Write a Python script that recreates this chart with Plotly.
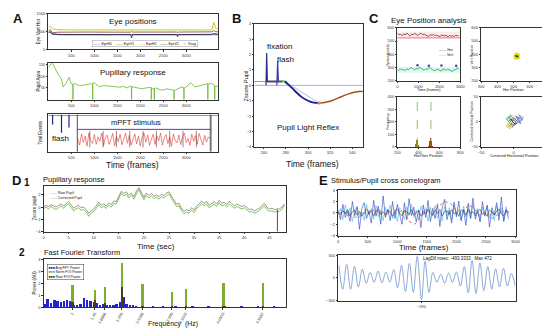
import plotly.graph_objects as go

W, H = 550, 328
FONT = "Liberation Sans, Arial, sans-serif"

# ---------------- data ----------------
# A1 eye positions
eye_t = [0, 40, 80, 120, 200, 300, 400, 500, 700, 900, 1100, 1300, 1500, 1700, 1790, 1810, 1830, 1900, 2100, 2300,
         2500, 2700, 2790, 2810, 2830, 2900, 3100, 3300, 3500, 3560, 3600, 3640, 3690]
eyeH2 = [620, 640, 600, 570, 555, 550, 548, 550, 547, 549, 548, 550, 549, 548, 547, 552, 548, 549, 550, 548,
         549, 548, 550, 552, 549, 548, 549, 550, 548, 560, 760, 600, 560]
eyeV1 = [520, 560, 480, 470, 485, 488, 490, 487, 489, 490, 488, 489, 490, 487, 486, 510, 488, 489, 490, 488,
         489, 487, 490, 470, 489, 490, 488, 489, 490, 495, 530, 500, 495]
eyeH1 = [470, 490, 430, 420, 415, 412, 410, 412, 409, 411, 413, 410, 412, 411, 410, 400, 412, 411, 413, 410,
         412, 410, 411, 400, 412, 411, 413, 410, 412, 415, 420, 418, 415]
eyeV2 = [480, 500, 440, 430, 425, 420, 418, 420, 417, 419, 421, 418, 420, 419, 418, 330, 420, 419, 421, 418,
         420, 418, 419, 360, 420, 419, 421, 418, 420, 425, 450, 430, 425]

# A2 pupil area
pup_t = [0, 30, 90, 140, 210, 283, 319, 376, 448, 498, 530, 534, 538, 570, 677, 820, 928, 960, 964, 968,
         1000, 1107, 1200, 1323, 1430, 1538, 1630, 1717, 1789, 1806, 1810, 1814, 1839, 1950, 2040, 2130, 2220, 2236, 2240, 2244,
         2270, 2301, 2305, 2309, 2326, 2400, 2470, 2577, 2650, 2720, 2731, 2735, 2739, 2757, 2850, 2900, 2946, 2950, 2954, 2971,
         3100, 3186, 3258, 3350, 3466, 3470, 3474, 3550, 3616, 3620, 3624, 3690]
pup_a = [140, 147, 155, 133, 108, 88, 54, 68, 95, 68, 66, 0, 64, 68, 60, 63, 68, 66, 0, 70,
         72, 54, 60, 58, 55, 53, 56, 50, 58, 56, 0, 55, 54, 50, 46, 50, 54, 52, 0, 50,
         46, 48, 0, 48, 50, 44, 40, 46, 44, 40, 40, 0, 40, 40, 48, 54, 52, 0, 50, 50,
         72, 54, 58, 62, 68, 0, 66, 70, 60, 0, 58, 55]

# A3 trial events
flash_t = [90, 284, 447]
flash_depth = [0.73, 0.51, 0.65]
stim_on, stim_off = 628, 3523
stim_level = 0.6
stim_marks = [900, 1190, 1480, 1770, 2060, 2350, 2640, 2930, 3220]
stim_sig = [0.35, 0.18, 0.48, 0.25, 0.42, 0.15, 0.5, 0.3, 0.22, 0.46, 0.2, 0.4, 0.28, 0.5, 0.17, 0.38, 0.45, 0.2, 0.33, 0.49,
            0.16, 0.41, 0.27, 0.47, 0.19, 0.36, 0.5, 0.23, 0.44, 0.18, 0.31, 0.48, 0.21, 0.42, 0.16, 0.39, 0.5, 0.26, 0.45, 0.17,
            0.34, 0.47, 0.2, 0.43, 0.29, 0.5, 0.18, 0.37, 0.46, 0.22, 0.4, 0.15, 0.48, 0.3, 0.24, 0.45, 0.19, 0.41, 0.5, 0.25,
            0.36, 0.17, 0.47, 0.28, 0.43, 0.2, 0.49, 0.32, 0.18, 0.44, 0.26, 0.4, 0.35]
stim_t = list(range(640, 640 + 40 * len(stim_sig), 40))

# B pupil light reflex
b_fix_t = [262.0, 262.6, 263.2]
b_fix_v = [0.0, 2.1, 0.25]
b_flash_t = [271.8, 272.5, 273.2]
b_flash_v = [0.0, 1.6, 0.25]
b_pre_t = [251.5, 262.5]
b_pre_v = [0.25, 0.25]
b_hold_t = [262.5, 277.0]
b_hold_v = [0.25, 0.25]
b_grn_t = [276.0, 281.0]
b_grn_v = [0.28, 0.22]
b_plr_t = [279, 283, 288, 294, 300, 305, 310]
b_plr_v = [0.25, 0.0, -0.35, -0.75, -1.0, -1.12, -1.15]
b_rec_t = [310, 316, 322, 328, 334, 340, 346, 349.5]
b_rec_v = [-1.15, -1.1, -0.98, -0.8, -0.62, -0.48, -0.4, -0.38]

# C1 eye position time series
c1_hor = [560, 548, 552, 540, 555, 545, 560, 550, 538, 552, 546, 558, 549, 541, 553, 560, 547, 552, 545, 540,
          535, 548, 542, 550, 538, 545, 540, 532, 546, 541, 538, 545, 530, 542, 536, 540, 533, 545, 538, 541]
c1_vert = [285, 278, 290, 282, 288, 276, 292, 284, 296, 300, 290, 282, 295, 288, 305, 298, 286, 280, 292, 284,
           300, 296, 286, 280, 276, 290, 285, 281, 274, 292, 286, 280, 289, 284, 278, 270, 286, 282, 300, 290]
c1_t = list(range(0, 75 * len(c1_hor), 75))
c1_peak_t = [960, 1500, 2100, 2800]
c1_peak_v = [318, 315, 316, 315]
c1_hor_band = [515, 572]
c1_vert_band = [262, 305]
c1_hor_mean = 524

# C2 mean position
c2_x = [520, 523, 517]
c2_y = [385, 383, 388]

# C3 histogram
c3_vert_bins = [375, 380, 385, 390, 395, 400, 405]
c3_vert_cnt = [8, 25, 45, 60, 40, 20, 6]
c3_hor_bins = [505, 510, 515, 520, 525, 530, 535]
c3_hor_cnt = [5, 22, 48, 70, 50, 25, 6]
c3_means = [390, 520]

# C4 centered positions
c4_blue_x = [5, 12, 8, 15, 10, 3, 9, 14, 6, 11, 2, 7]
c4_blue_y = [10, 6, 14, 8, 2, 12, -2, 4, 9, -4, 5, 0]
c4_green_x = [-8, -2, -10, -4, -12, -6, 0, -9, -3, -7]
c4_green_y = [8, 12, 4, 14, 6, -2, 10, 0, 6, -6]
c4_yel_x = [-10, -4, -12, -6, -2, -8, -5, -11]
c4_yel_y = [-4, -10, -8, -2, -12, -6, -14, -10]
c4_dark_x = [-3, 2, -6, 4, 0, -2, 6, -4, 1, 3]
c4_dark_y = [2, -4, 6, 0, -8, -10, -2, -6, 8, 4]

# D1 pupillary response (z-score)
d1_raw = [0.0, 0.3, 0.1, 0.4, 0.2, 0.0, 0.3, 0.5, 0.2, 0.6,
          0.9, 0.4, -0.2, 0.1, 0.3, -0.1, 0.0, -0.4, -1.0, -0.6,
          -0.3, 0.2, 0.8, 0.3, 0.5, 0.2, 0.7, 0.4, 1.0, 0.9,
          1.8, 2.6, 2.2, 2.5, 1.9, 2.3, 1.7, 2.6, 3.2, 2.4,
          1.6, 2.3, 1.9, 2.2, 1.8, 2.0, 1.7, 2.1, 1.9, 2.3,
          2.5, 1.8, 1.2, 0.5, 0.6, -0.2, -0.7, -0.4, -0.6, -0.1,
          -0.5, 0.2, 0.5, 1.0, 0.6, 0.9, 0.3, 0.6, 0.9, 0.5,
          1.1, 0.6, 0.8, 0.4, 0.9, 0.6, 0.2, 0.5, 0.3, 0.1,
          0.3, -0.1, -0.4, -0.3, -0.6, -0.4, -0.2, 0.3, 0.6, 0.0,
          -0.3, -0.2, -0.4, -0.3, -0.3, 0.0, 0.5]
d1_corr = [-0.3, 0.0, -0.3, 0.1, -0.2, -0.4, -0.1, 0.2, -0.2, 0.3,
           0.5, 0.0, -0.6, -0.3, -0.1, -0.5, -0.4, -0.8, -1.5, -1.0,
           -0.7, -0.2, 0.4, -0.1, 0.1, -0.2, 0.3, 0.0, 0.6, 0.5,
           1.4, 2.3, 1.8, 2.1, 1.5, 1.9, 1.3, 2.2, 2.9, 2.0,
           1.2, 1.9, 1.5, 1.8, 1.4, 1.6, 1.3, 1.7, 1.5, 1.9,
           2.1, 1.4, 0.8, 0.1, 0.2, -0.6, -1.1, -0.8, -1.0, -0.5,
           -0.9, -0.2, 0.1, 0.6, 0.2, 0.5, -0.1, 0.2, 0.5, 0.1,
           0.7, 0.2, 0.4, 0.0, 0.5, 0.2, -0.2, 0.1, -0.1, -0.3,
           -0.1, -0.5, -0.8, -0.7, -1.0, -0.8, -0.6, -0.1, 0.2, -0.4,
           -0.7, -0.6, -0.8, -0.7, -0.7, -0.4, 0.3]
d1_t = [i * 0.5 for i in range(len(d1_raw))]
d1_blink_t = 46.6
d1_blink_v = [-0.4, -4.0]

# D2 FFT
fft_f = [0.43, 0.49, 0.56, 0.63, 0.69, 0.76, 0.83, 0.89, 0.96, 1.03,
         1.09, 1.16, 1.23, 1.29, 1.36, 1.43, 1.49, 1.56, 1.63, 1.69,
         1.76, 1.83, 1.89, 1.96, 2.03, 2.09, 2.16, 2.23, 2.29, 2.43,
         2.63, 2.83, 3.09, 3.43, 3.76, 4.09, 4.43, 4.76, 5.09]
fft_avg = [0.3, 0.65, 0.35, 0.6, 0.55, 0.45, 0.5, 0.6, 0.5, 0.2,
           0.15, 0.25, 0.8, 0.6, 0.5, 0.4, 0.35, 0.2, 0.3, 0.2,
           0.15, 0.2, 0.3, 0.4, 0.85, 0.3, 0.2, 0.15, 0.1, 0.1,
           0.08, 0.1, 0.06, 0.08, 0.05, 0.06, 0.05, 0.05, 0.05]
foi_f = [1.0, 1.46, 1.66, 1.999, 2.42, 3.02, 3.3, 4.06, 4.86]
foi_labels = ["1", "1.45", "1.6666", "1.999", "2.4166", "2.999", "3.3333", "4.0833", "4.8887"]
foi_norm = [1.86, 1.39, 1.64, 3.71, 1.91, 1.25, 1.53, 1.97, 2.05]
foi_raw = [0.4, 0.6, 0.35, 1.64, 0.12, 0.06, 0.1, 0.1, 0.1]

# E1 stimulus / pupil traces
e1_blue = [0.5, -1.2, 1.5, -0.8, 0.3, -1.5, 2.0, -0.5, 1.0, -2.9, 0.8, 1.8, -1.0, 0.4, -1.8, 2.2, -0.6, 1.2, -2.0, 3.0,
           -0.8, 0.6, -1.4, 2.0, -1.0, 1.5, -0.3, -2.0, 1.8, -1.2, 2.5, -0.5, 1.0, -1.6, 0.5, -2.6, 1.4, -0.8, 2.2, -1.5,
           0.8, -1.0, 1.6, -2.4, 0.9, 2.4, -1.2, 0.4, -1.8, 1.9, -0.7, 2.1, -1.3, 0.6, -2.2, 1.7, -0.9, 2.6, -1.1, 0.3,
           -1.6, 2.0, -0.5, 1.3, -2.5, 0.9, -0.4, 1.8, -1.3, 2.8, -1.5, 0.6, -1.0]
e1_cyan = [-0.3, 0.8, -1.2, 1.4, -0.6, 0.9, -1.5, 0.4, 1.2, -0.9, 0.2, -1.3, 1.5, -0.4, 0.8, -1.1, 1.3, -0.7, 0.5, -1.4,
           1.0, -0.2, 1.4, -1.0, 0.6, -1.5, 0.9, 0.3, -1.2, 1.1, -0.5, 1.5, -0.8, 0.4, -1.3, 1.2, -0.3, 0.7, -1.5, 1.0,
           -0.6, 1.3, -0.9, 0.2, -1.4, 1.1, -0.5, 0.9, -1.2, 1.4, -0.3, 0.6, -1.5, 1.2, -0.7, 0.4, -1.1, 1.5, -0.2, 0.8,
           -1.3, 1.0, -0.6, 1.4, -0.9, 0.3, -1.4, 1.2, -0.5, 0.9, -1.5, 1.1, -0.4]
e1_black = [0.1, -0.3, 0.4, -0.2, 0.6, -0.5, 0.2, 0.5, -0.4, 0.3, -0.6, 0.1, 0.7, -0.2, 0.4, -0.5, 0.3, 0.6, -0.3, 0.2,
            -0.4, 0.5, 0.1, -0.6, 0.3, 0.7, -0.1, -0.5, 0.4, 0.2, -0.3, 0.6, -0.4, 0.1, 0.5, -0.6, 0.3, -0.2, 0.7, 0.0,
            -0.4, 0.5, -0.1, 0.6, -0.5, 0.2, 0.4, -0.3, 0.6, -0.2, 0.1, -0.6, 0.5, 0.3, -0.4, 0.7, -0.1, 0.2, -0.5, 0.4,
            0.6, -0.3, 0.1, -0.6, 0.5, 0.2, -0.4, 0.3, 0.7, -0.2, -0.5, 0.4, 0.1]
e1_t = list(range(0, 40 * len(e1_blue), 40))
e1_red = [-0.2, 0.3, -0.5, -0.8, 0.2, -0.4, 0.5, 0.1, -0.3, 0.4, -0.2, 0.6, -1.5, -2.0, -0.6, 0.3, -0.1, 1.2, 2.0, 1.7,
          0.4, -0.3, 1.5, 0.8, -0.5, 0.2, -1.0, -0.3, 0.4, 0.1]
e1_red_t = list(range(0, 100 * len(e1_red), 100))

# E2 cross correlogram
e2_lag = [-1689, -1623, -1556, -1490, -1424, -1358, -1291, -1225, -1159, -1092,
          -1026, -960, -893, -827, -761, -695, -628, -562, -496, -429,
          -363, -290, -230, -164, -98, -31, 35, 101, 168, 234,
          300, 367, 433, 499, 565, 632, 698, 764, 831, 897,
          963, 1029, 1096, 1162, 1228, 1295]
e2_val = [280, -250, 300, -250, 260, -200, 190, -120, 120, -100,
          150, -110, 130, -100, 180, -220, 280, -300, 320, -320,
          472, -475, 370, -320, 120, -100, 80, -120, 110, -100,
          130, -180, 250, -330, 380, -350, 330, -280, 250, -250,
          200, -200, 210, -180, 100, -180]

# ---------------- figure ----------------
fig = go.Figure()

AX = dict(showline=True, linecolor="#333", linewidth=0.6, mirror=True, ticks="outside",
          ticklen=1.5, tickwidth=0.5, tickcolor="#333",
          tickfont=dict(size=4, color="#333", family=FONT),
          showgrid=False, zeroline=False)


def set_axes(n, xbox, ybox, xr, yr, xt=None, yt=None, xtt=None, ytt=None,
             xlab=True, ylab=True, xangle=0):
    xk = "xaxis" if n == 1 else f"xaxis{n}"
    yk = "yaxis" if n == 1 else f"yaxis{n}"
    xa = dict(AX, domain=[xbox[0] / W, xbox[1] / W], range=xr,
              anchor=("y" if n == 1 else f"y{n}"), showticklabels=xlab, tickangle=xangle)
    ya = dict(AX, domain=[1 - ybox[1] / H, 1 - ybox[0] / H], range=yr,
              anchor=("x" if n == 1 else f"x{n}"), showticklabels=ylab)
    if xt is not None:
        xa["tickvals"] = xt
    if xtt is not None:
        xa["ticktext"] = xtt
    if yt is not None:
        ya["tickvals"] = yt
    if ytt is not None:
        ya["ticktext"] = ytt
    fig.update_layout({xk: xa, yk: ya})


def ref(n):
    return dict(xaxis="x" if n == 1 else f"x{n}", yaxis="y" if n == 1 else f"y{n}")


def line(n, x, y, color, width=0.8, dash=None, shape=None, **kw):
    fig.add_trace(go.Scatter(x=x, y=y, mode="lines",
                             line=dict(color=color, width=width, dash=dash, shape=shape),
                             hoverinfo="skip", **ref(n), **kw))


# axes boxes (pixel coordinates)
set_axes(1, (38, 210), (3, 39), [0, 3690], [0, 1000],
         xt=[500, 1000, 1500, 2000, 2500, 3000], yt=[0, 500, 1000])
set_axes(2, (38, 210), (53, 90), [0, 3690], [0, 155],
         xt=[500, 1000, 1500, 2000, 2500, 3000], yt=[50, 100, 150])
set_axes(3, (38, 210), (105, 143), [0, 3690], [0, 1],
         xt=[500, 1000, 1500, 2000, 2500, 3000], ylab=False, yt=[])
set_axes(4, (247, 357), (13, 138), [251.5, 349.5], [-4, 4],
         xt=[260, 280, 300, 320, 340], yt=[-4, -3, -2, -1, 0, 1, 2, 3, 4])
set_axes(5, (392, 456), (17, 71), [0, 3000], [200, 600],
         xt=[0, 1000, 2000, 3000], yt=[200, 300, 400, 500, 600])
set_axes(6, (477, 543), (17, 71), [300, 700], [200, 600],
         xt=[300, 400, 500, 600, 700], yt=[200, 300, 400, 500, 600])
set_axes(7, (392, 456), (87, 138), [200, 800], [0, 400],
         xt=[200, 400, 600, 800], yt=[0, 100, 200, 300, 400])
set_axes(8, (477, 543), (87, 138), [-50, 50], [-50, 50],
         xt=[-50, 0, 50], yt=[-50, 0, 50])
set_axes(9, (33, 279), (178, 224), [0, 48.3], [-4, 3.4],
         xt=[0, 5, 10, 15, 20, 25, 30, 35, 40, 45], yt=[-4, -2, 0, 2])
set_axes(10, (33, 279), (252, 301), [0.42, 5.34], [0, 4],
         xt=foi_f, xtt=foi_labels, yt=[0, 1, 2, 3, 4], xangle=-60)
set_axes(11, (332, 512), (182, 228), [0, 3000], [-4, 4],
         xt=[0, 500, 1000, 1500, 2000, 2500, 3000], yt=[-4, -2, 0, 2, 4])
set_axes(12, (332, 512), (248, 294), [-1700, 1300], [-500, 500],
         xt=[-290], yt=[-500, 0, 500])

# ---- A1
line(1, eye_t, eyeH2, "#c8c828", 1.0)
line(1, eye_t, eyeV1, "#8b3a1a", 0.8)
line(1, eye_t, eyeH1, "#2050c0", 0.8)
line(1, eye_t, eyeV2, "#1a1a40", 0.8)

# ---- A2
line(2, pup_t, pup_a, "#6ab82a", 0.8)

# ---- A3
line(3, [0, 3690], [0.97, 0.97], "#a8a030", 1.2)
fx, fy = [], []
for t, d in zip(flash_t, flash_depth):
    fx += [t, t, None]
    fy += [1.0, d, None]
line(3, fx, fy, "#1a2a8a", 1.2)
line(3, [stim_on, stim_off], [stim_level, stim_level], "#6a3aa0", 1.0)
line(3, stim_t, stim_sig, "#e03838", 0.6)
mx, my = [], []
for t in stim_marks:
    mx += [t, t, None]
    my += [0.12, 0.56, None]
line(3, mx, my, "#6a2a20", 0.6)
line(3, [stim_on, stim_on], [0, 1], "#222", 0.8)
line(3, [stim_off, stim_off], [0, 1], "#222", 0.8)
line(3, [stim_off + 25, stim_off + 25], [0, 1], "#50b030", 0.8)

# ---- B
line(4, [251.5, 349.5], [0, 0], "#a8a8f8", 1.0)
line(4, b_pre_t, b_pre_v, "#e08a30", 1.0)
line(4, b_hold_t, b_hold_v, "#505050", 2.0)
line(4, b_fix_t, b_fix_v, "#2a2a90", 1.2)
line(4, b_flash_t, b_flash_v, "#3a3ab0", 1.2)
line(4, b_grn_t, b_grn_v, "#60c040", 2.0)
line(4, [b_plr_t[0], b_plr_t[-1]], [b_plr_v[0], b_plr_v[-1]], "#8ab0e0", 0.8)
line(4, b_plr_t, b_plr_v, "#1a1a9a", 1.8, shape="spline")
line(4, b_rec_t, b_rec_v, "#a0501a", 1.5, shape="spline")
fig.add_trace(go.Scatter(x=[b_plr_t[-1]], y=[b_plr_v[-1]], mode="markers",
                         marker=dict(size=4, color="rgba(240,150,120,0.7)"), hoverinfo="skip", **ref(4)))

# ---- C1
fig.add_shape(type="rect", xref="x5", yref="y5", x0=0, x1=3000, y0=c1_hor_band[0], y1=c1_hor_band[1],
              fillcolor="rgba(255,190,200,0.35)", line_width=0, layer="below")
fig.add_shape(type="rect", xref="x5", yref="y5", x0=0, x1=3000, y0=c1_vert_band[0], y1=c1_vert_band[1],
              fillcolor="rgba(170,240,240,0.45)", line_width=0, layer="below")
line(5, [0, 3000], [c1_hor_mean, c1_hor_mean], "#e04040", 0.6)
line(5, c1_t, c1_hor, "#6a3a1a", 0.8)
line(5, c1_t, c1_vert, "#4a9a2a", 0.8)
fig.add_trace(go.Scatter(x=c1_peak_t, y=c1_peak_v, mode="markers",
                         marker=dict(size=2.5, color="#3050c0"), hoverinfo="skip", **ref(5)))

# ---- C2
fig.add_trace(go.Scatter(x=[c2_x[0]], y=[c2_y[0]], mode="markers",
                         marker=dict(size=7, color="#d8e020"), hoverinfo="skip", **ref(6)))
fig.add_trace(go.Scatter(x=c2_x[1:], y=c2_y[1:], mode="markers",
                         marker=dict(size=2, color="#303030"), hoverinfo="skip", **ref(6)))

# ---- C3
for m in c3_means:
    line(7, [m, m], [0, 400], "#60a040", 0.7, dash="dash")
fig.add_trace(go.Bar(x=c3_vert_bins, y=c3_vert_cnt, width=5, marker=dict(color="#8a8a20", line_width=0),
                     hoverinfo="skip", **ref(7)))
fig.add_trace(go.Bar(x=c3_hor_bins, y=c3_hor_cnt, width=5, marker=dict(color="#b03018", line_width=0),
                     hoverinfo="skip", **ref(7)))

# ---- C4
line(8, c4_green_x, c4_green_y, "#4a9a5a", 0.6)
line(8, c4_yel_x, c4_yel_y, "#c8b030", 0.6)
line(8, c4_blue_x, c4_blue_y, "#3a5ab0", 0.6)
line(8, c4_dark_x, c4_dark_y, "#3a2a1a", 0.6)

# ---- D1
line(9, d1_t, d1_raw, "#808070", 0.8)
line(9, d1_t, d1_corr, "#5cb82c", 0.8)
line(9, [d1_blink_t, d1_blink_t], d1_blink_v, "#8a3a1a", 1.0)

# ---- D2
fig.add_trace(go.Bar(x=fft_f, y=fft_avg, width=0.05, marker=dict(color="#2424d0", line_width=0),
                     hoverinfo="skip", **ref(10)))
fig.add_trace(go.Bar(x=foi_f, y=foi_norm, width=0.05, marker=dict(color="#7ab030", line_width=0),
                     hoverinfo="skip", **ref(10)))
fig.add_trace(go.Bar(x=foi_f, y=foi_raw, width=0.05, marker=dict(color="#4a4010", line_width=0),
                     hoverinfo="skip", **ref(10)))

# ---- E1
line(11, e1_t, e1_cyan, "#40b8e8", 0.6)
line(11, e1_t, e1_blue, "#3040c0", 0.6)
line(11, e1_t, e1_black, "#202020", 0.5)
line(11, e1_red_t, e1_red, "#e05030", 0.8, dash="dot")

# ---- E2
line(12, e2_lag, e2_val, "#7f9fd0", 0.9, shape="spline")

# ---------------- annotations ----------------
anns = []


def ann(text, px, py, size, bold=False, angle=0, xanchor="center", color="#111", **kw):
    if bold:
        text = f"<b>{text}</b>"
    anns.append(dict(text=text, x=px / W, y=1 - py / H, xref="paper", yref="paper",
                     xanchor=xanchor, yanchor="middle", showarrow=False, textangle=angle,
                     font=dict(size=size, color=color, family=FONT), **kw))


ann("A", 7, 8, 13, bold=True)
ann("Eye positions", 124, 11, 8)
ann("Pupillary response", 124, 62, 8)
ann("mPFT stimulus", 127, 113, 7.5)
ann("flash", 50, 129, 8)
ann("Time (frames)", 123, 156, 8.5)
ann("Eye Vert Hor", 28, 21, 4.5, angle=-90)
ann("Pupil Area", 28, 71, 4.5, angle=-90)
ann("Trial Events", 30, 124, 4.5, angle=-90)
leg_a = ('<span style="color:#2050c0">——</span> EyeH1    '
         '<span style="color:#8b3a1a">——</span> EyeV1    '
         '<span style="color:#c8c828">——</span> EyeH2    '
         '<span style="color:#1a1a40">——</span> EyeV2    '
         '<span style="color:#e060e0">-×-</span> Vsag')
ann(leg_a, 136, 33, 3.5, bgcolor="white", bordercolor="#999", borderwidth=0.5, borderpad=1)

ann("B", 229, 8, 13, bold=True)
ann("fixation", 272, 36, 8)
ann("flash", 279, 49, 8)
ann("Pupil Light Reflex", 301, 118, 8)
ann("Zscore Pupil", 238, 76, 5.5, angle=-90)
ann("Time (frames)", 306, 155, 8.5)

ann("C", 368, 8, 13, bold=True)
ann("Eye Position analysis", 424, 10, 8)
ann("Space (pixels)", 383, 44, 3.5, angle=-90)
ann("Time (frames)", 424, 80, 3.8)
ann("Vert Position", 468, 44, 3.5, angle=-90)
ann("Hor Position", 510, 80, 3.8)
ann("Frequency", 383, 112, 3.5, angle=-90)
ann("Hor/Vert Position", 424, 147, 3.8)
ann("Centered Vertical Position", 468, 112, 3.5, angle=-90)
ann("Centered Horizontal Position", 510, 147, 3.8)
ann('<span style="color:#6a3a1a">——</span> Hor<br><span style="color:#999">——</span> Vert',
    442, 42, 3.5)

ann("D", 6, 172, 13, bold=True)
ann("1", 16, 174, 10, bold=True)
ann("Pupillary response", 64, 171, 7.5)
ann("Time (sec)", 147, 239, 8)
ann("Zscore pupil", 24, 200, 4.5, angle=-90)
ann('<span style="color:#808070">——</span> Raw Pupil<br><span style="color:#5cb82c">——</span> Corrected Pupil',
    38, 187, 3.5, xanchor="left", align="left")
ann("2", 11, 245, 10, bold=True)
ann("Fast Fourier Transform", 72, 245, 7.5)
ann("Frequency  (Hz)", 164, 318, 7)
ann("Power (AU)", 24, 276, 4.5, angle=-90)
ann('<span style="color:#2424d0">■■■</span> Avg FFT Power<br>'
    '<span style="color:#7ab030">■■■</span> Norm FOI Power<br>'
    '<span style="color:#4a4010">■■■</span> Raw FOI Power',
    37, 265, 3.5, xanchor="left", align="left", bgcolor="white", bordercolor="#333",
    borderwidth=0.5, borderpad=1)

ann("E", 317, 172, 13, bold=True)
ann("Stimulus/Pupil cross correlogram", 381, 172, 7.5)
ann("Time (frames)", 419, 240, 8)
ann("LagDif msec: -493.3333   Max 472", 453, 251, 4.5)

fig.update_layout(
    width=W, height=H, autosize=False,
    margin=dict(l=0, r=0, t=0, b=0),
    paper_bgcolor="white", plot_bgcolor="white",
    showlegend=False, barmode="overlay", bargap=0,
    font=dict(family=FONT),
    annotations=anns,
)

fig.write_html("out.html")
